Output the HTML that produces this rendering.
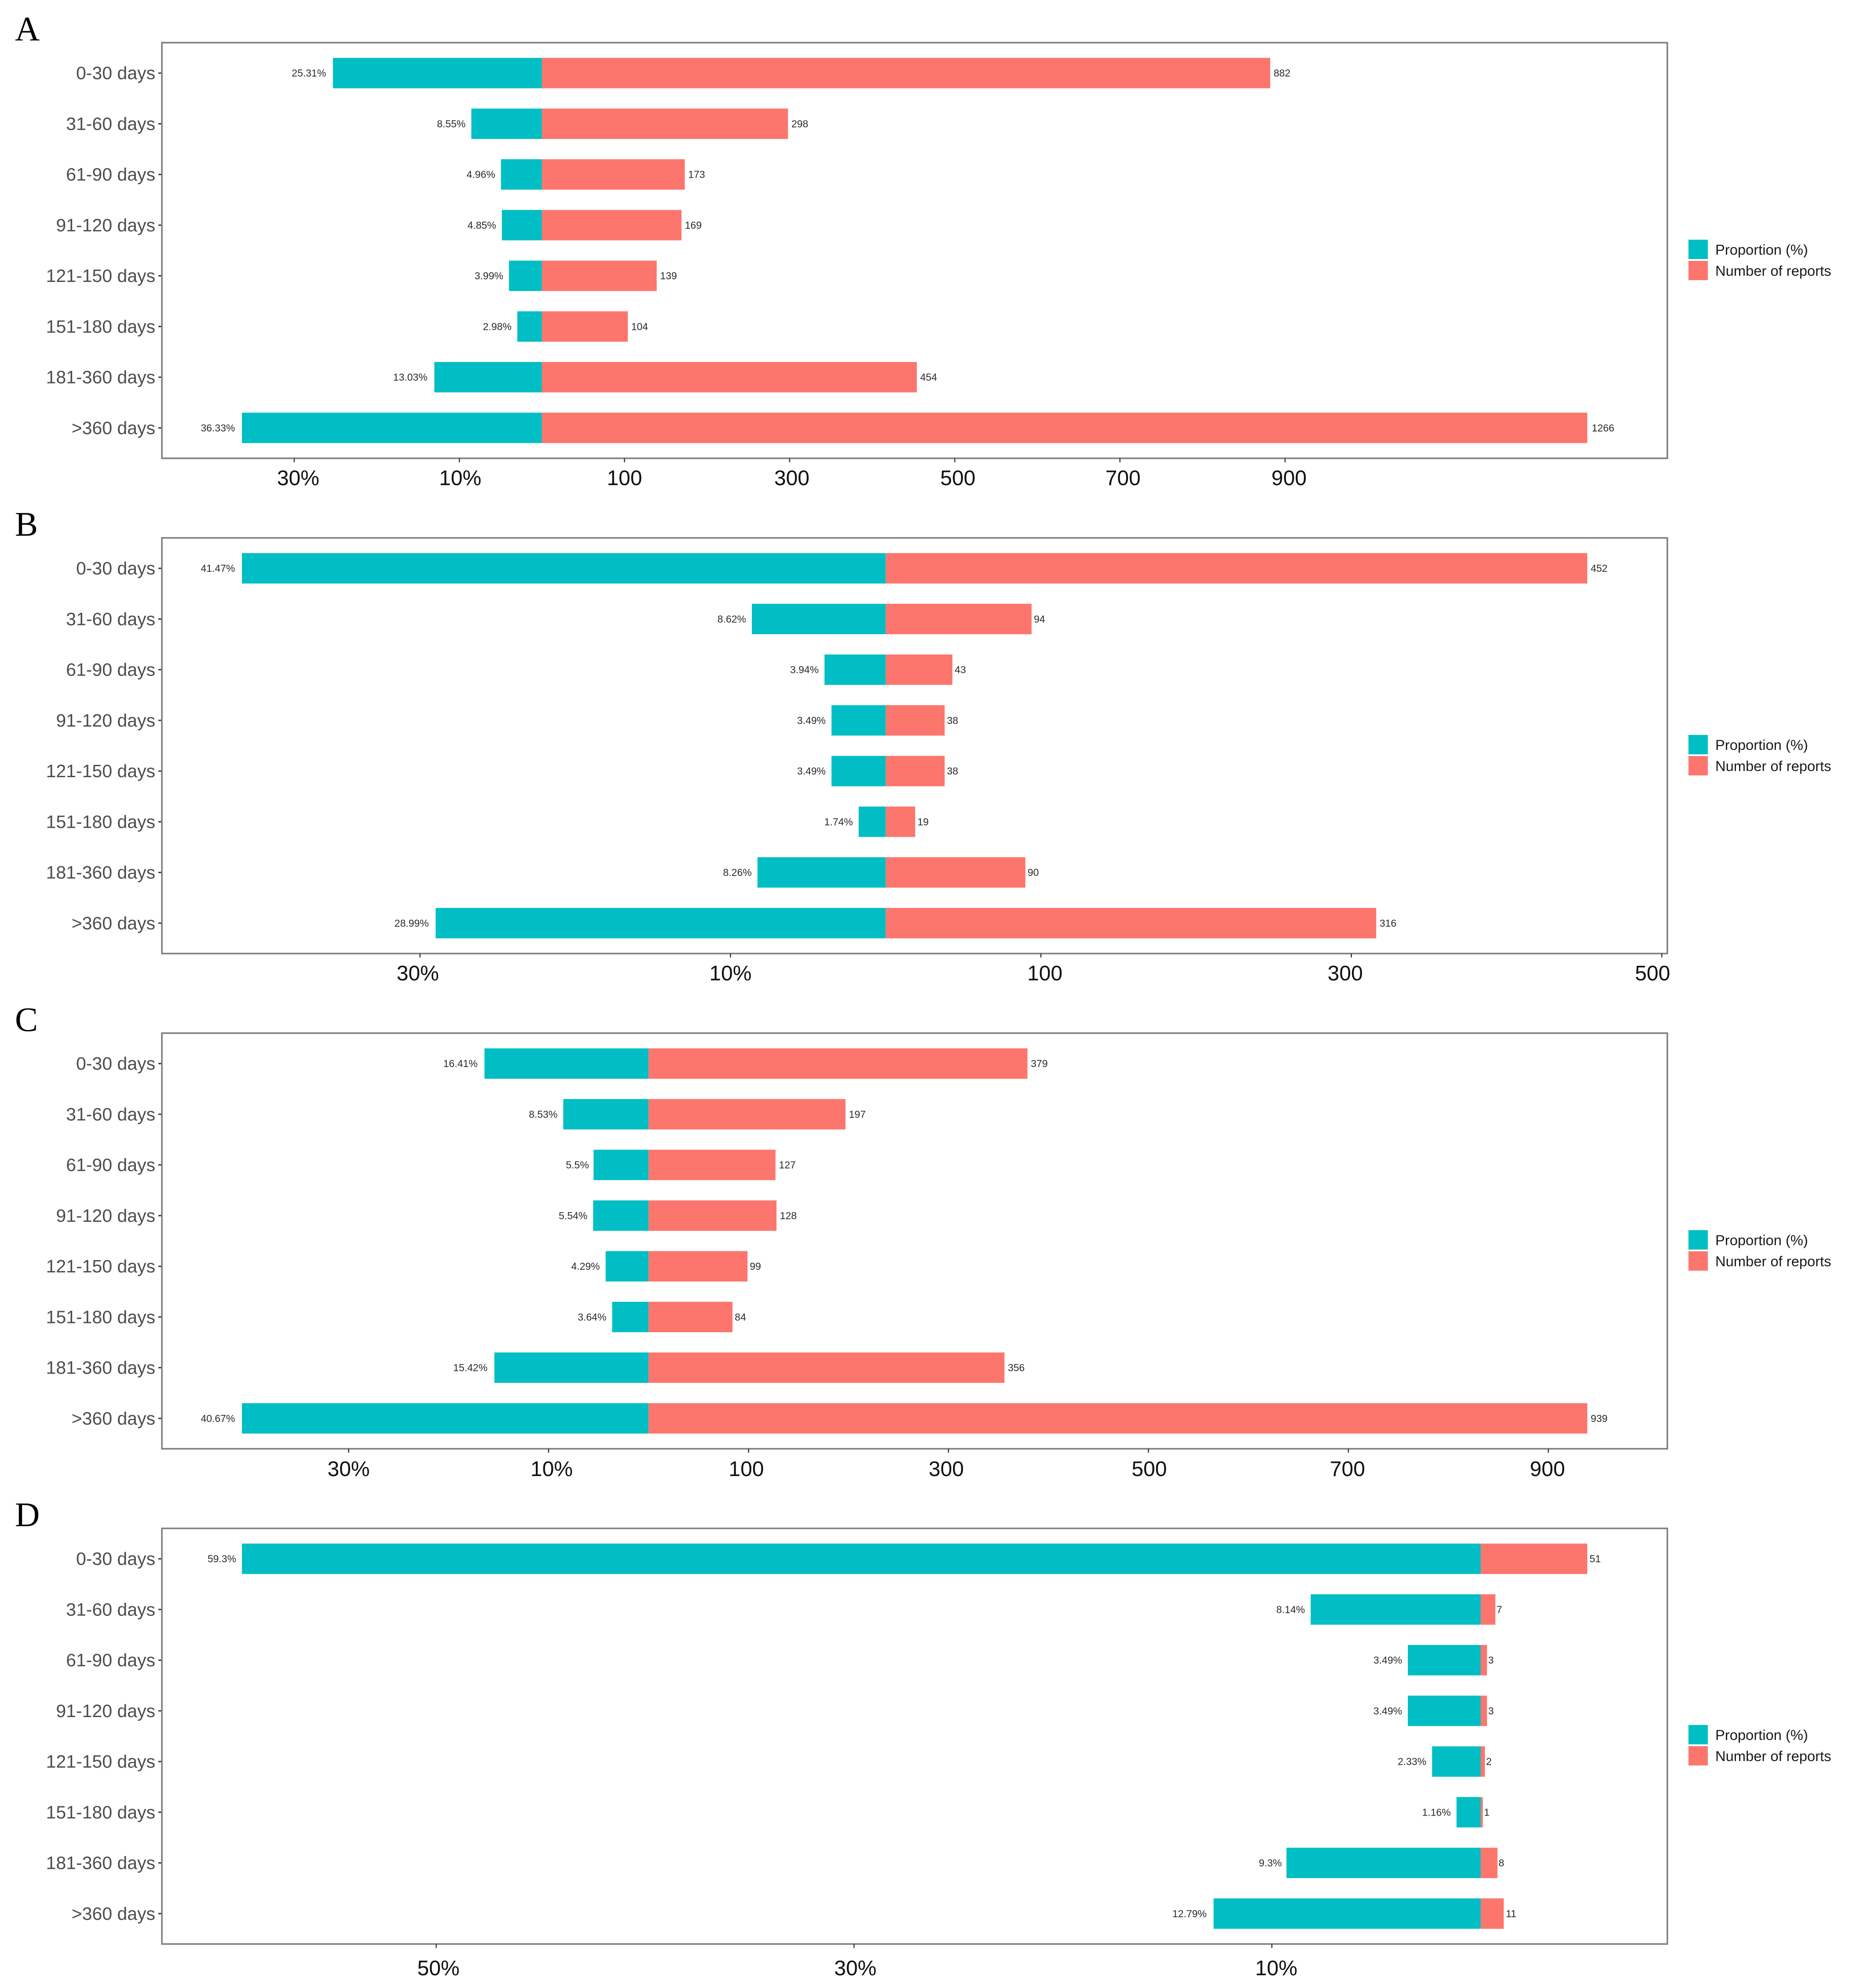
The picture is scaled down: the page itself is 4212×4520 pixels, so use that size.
<!DOCTYPE html>
<html lang="en">
<head>
<meta charset="utf-8">
<title>Reports and proportion by onset time</title>
<style>
html,body{margin:0;padding:0;background:#fff;}
svg{display:block;font-family:"Liberation Sans",Arial,sans-serif;}
</style>
</head>
<body>
<svg id="chart" xmlns="http://www.w3.org/2000/svg" width="4212" height="4520" viewBox="0 0 4212 4520"></svg>
<script>
const panelNames = ['A', 'B', 'C', 'D'];
const categories = ['0-30 days', '31-60 days', '61-90 days', '91-120 days', '121-150 days', '151-180 days', '181-360 days', '>360 days'];

const proportionA = [25.31, 8.55, 4.96, 4.85, 3.99, 2.98, 13.03, 36.33];
const reportsA = [882, 298, 173, 169, 139, 104, 454, 1266];
const proportionB = [41.47, 8.62, 3.94, 3.49, 3.49, 1.74, 8.26, 28.99];
const reportsB = [452, 94, 43, 38, 38, 19, 90, 316];
const proportionC = [16.41, 8.53, 5.5, 5.54, 4.29, 3.64, 15.42, 40.67];
const reportsC = [379, 197, 127, 128, 99, 84, 356, 939];
const proportionD = [59.3, 8.14, 3.49, 3.49, 2.33, 1.16, 9.3, 12.79];
const reportsD = [51, 7, 3, 3, 2, 1, 8, 11];

const tickValuesA = [-300, -100, 100, 300, 500, 700, 900];
const tickLabelsA = ['30%', '10%', '100', '300', '500', '700', '900'];
const tickValuesB = [-300, -100, 100, 300, 500];
const tickLabelsB = ['30%', '10%', '100', '300', '500'];
const tickValuesC = [-300, -100, 100, 300, 500, 700, 900];
const tickLabelsC = ['30%', '10%', '100', '300', '500', '700', '900'];
const tickValuesD = [-500, -300, -100];
const tickLabelsD = ['50%', '30%', '10%'];

const legendLabels = ['Proportion (%)', 'Number of reports'];

const proportionSeries = [proportionA, proportionB, proportionC, proportionD];
const reportSeries = [reportsA, reportsB, reportsC, reportsD];
const tickValueSets = [tickValuesA, tickValuesB, tickValuesC, tickValuesD];
const tickLabelSets = [tickLabelsA, tickLabelsB, tickLabelsC, tickLabelsD];

const TEAL = '#00BEC4';
const CORAL = '#FC766E';
const plotLeft = 368;
const plotRight = 3790;
const plotHeight = 945;
const expansion = 0.0595;
const percentToAxis = 10;
const labelGapRatio = 0.2;
const svg = document.getElementById('chart');
const NS = 'http://www.w3.org/2000/svg';

function make(tag, props, parent, text) {
  const el = document.createElementNS(NS, tag);
  for (const k in props) el.setAttribute(k, props[k]);
  if (text !== undefined) el.textContent = text;
  parent.appendChild(el);
  return el;
}
function panelTop(i) { return 97 + i * 1126; }
function makeXScale(pcts, counts) {
  const lo = -Math.max(...pcts) * percentToAxis;
  const hi = Math.max(...counts);
  const span = hi - lo;
  const dLo = lo - span * expansion;
  const dHi = hi + span * expansion;
  return v => plotLeft + (v - dLo) / (dHi - dLo) * (plotRight - plotLeft);
}
function makeYScale(top) {
  const unit = plotHeight / (categories.length + 0.2);
  return { center: i => top + (i + 0.6) * unit, band: 0.6 * unit };
}
function tickLabelShift(p, t) {
  const layout = [[9, 2, 0, 5, 7, 7, 9], [-5, 0, 9, -14, -21], [0, 7, -5, -5, 2, -2, -2], [5, 3, 10]];
  return layout[p][t] || 0;
}
function tickLabelDrop(p) { return [61, 61, 62, 71][p]; }
function legendTop(p) { return panelTop(p) + (p === 3 ? 447 : 448); }

panelNames.forEach((name, p) => {
  const top = panelTop(p);
  const bottom = top + plotHeight;
  const pcts = proportionSeries[p];
  const counts = reportSeries[p];
  const x = makeXScale(pcts, counts);
  const y = makeYScale(top);

  const group = make('g', {}, svg);
  
  

  const letter = make('text', { x: 34, y: top - 5, 'font-family': '"Liberation Serif",serif', 'font-size': 78, fill: '#000' }, group, name);
  
  

  categories.forEach((cat, i) => {
    const cy = y.center(i);

    const catLabel = make('text', { x: 353, y: cy + 14, 'text-anchor': 'end', 'font-size': 41, fill: '#4d4d4d' }, group, cat);
    
    

    const yTick = make('line', { x1: 360, x2: plotLeft, y1: cy, y2: cy, stroke: '#333', 'stroke-width': 3 }, group);
    
    

    const x0 = x(0);
    const xl = x(-pcts[i] * percentToAxis);
    const xr = x(counts[i]);

    const tealBar = make('rect', { x: xl, y: cy - y.band / 2, width: x0 - xl, height: y.band, fill: TEAL }, group);
    
    

    const coralBar = make('rect', { x: x0, y: cy - y.band / 2, width: xr - x0, height: y.band, fill: CORAL }, group);
    
    

    const pctLabel = make('text', { x: xl, y: cy + 8, 'text-anchor': 'end', 'font-size': 23, fill: '#2a2a2a' }, group, pcts[i] + '%');
    
    
    pctLabel.setAttribute('x', xl - pctLabel.getComputedTextLength() * labelGapRatio);

    const countLabel = make('text', { x: xr, y: cy + 8, 'font-size': 23, fill: '#2a2a2a' }, group, String(counts[i]));
    
    
    countLabel.setAttribute('x', xr + countLabel.getComputedTextLength() * labelGapRatio);
  });

  const frame = make('rect', { x: plotLeft, y: top, width: plotRight - plotLeft, height: plotHeight, fill: 'none', stroke: '#7d7d7d', 'stroke-width': 3.5 }, group);
  
  

  tickValueSets[p].forEach((v, t) => {
    const tx = x(v);

    const xTick = make('line', { x1: tx, x2: tx, y1: bottom, y2: bottom + 9, stroke: '#333', 'stroke-width': 2.5 }, group);
    
    

    const xLabel = make('text', { x: tx + tickLabelShift(p, t), y: bottom + tickLabelDrop(p), 'text-anchor': 'middle', 'font-size': 48, fill: '#111' }, group, tickLabelSets[p][t]);
    
    
  });

  const legend = make('g', {}, group);
  
  
  legendLabels.forEach((label, l) => {
    const ly = legendTop(p) + l * 48;

    const swatch = make('rect', { x: 3838, y: ly, width: 44, height: 44, fill: l === 0 ? TEAL : CORAL }, legend);
    
    

    const legendText = make('text', { x: 3899, y: ly + 34, 'font-size': 32.7, fill: '#1a1a1a' }, legend, label);
    
    
  });
});
</script>
</body>
</html>
